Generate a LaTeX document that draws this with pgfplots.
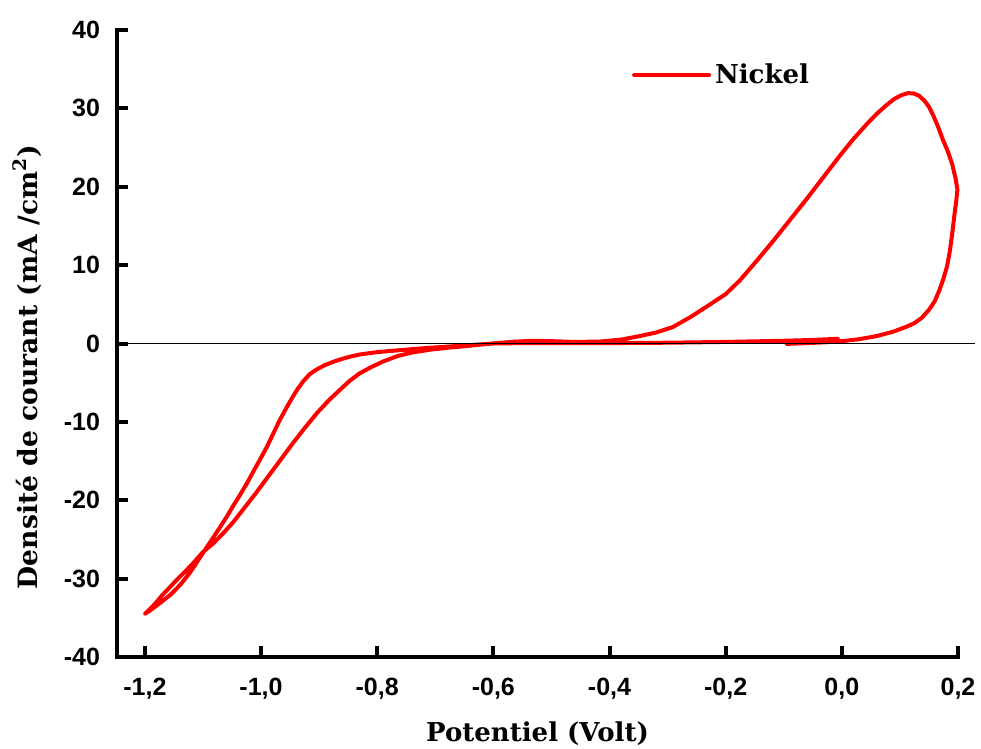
\documentclass[border=0pt]{standalone}
\usepackage{fontspec}
\usepackage{pgfplots}
\pgfplotsset{compat=1.18}
\setmainfont{DejaVu Serif}
\newfontfamily\tickfont{Liberation Sans}
\definecolor{cvred}{RGB}{255,0,0}
\begin{document}
\begin{tikzpicture}
\useasboundingbox (-58.5pt,-46pt) rectangle (432pt,328.5pt);
\begin{axis}[
  at={(0pt,0pt)}, anchor=south west,
  scale only axis, width=420.5pt, height=313.5pt,
  xmin=-1.248, xmax=0.2, ymin=-40, ymax=40,
  axis lines*=left,
  axis line style={line width=2pt, line cap=rect},
  tick align=inside, major tick length=5.5pt,
  tick style={line width=2pt, black},
  xtick={-1.2,-1,-0.8,-0.6,-0.4,-0.2,0,0.2},
  xticklabels={{-1,2},{-1,0},{-0,8},{-0,6},{-0,4},{-0,2},{0,0},{0,2}},
  ytick={-40,-30,-20,-10,0,10,20,30,40},
  yticklabels={-40,-30,-20,-10,0,10,20,30,40},
  xticklabel style={font=\tickfont\bfseries\fontsize{12.5}{14}\selectfont, inner sep=0pt, anchor=north, yshift=-10.5pt},
  yticklabel style={font=\tickfont\bfseries\fontsize{12.5}{14}\selectfont, inner sep=0pt, anchor=east, xshift=-8.3pt},
  xlabel={Potentiel (Volt)},
  ylabel={Densité de courant (mA /cm\textsuperscript{2})},
  xlabel style={font=\bfseries\fontsize{13}{15}\selectfont, at={(axis description cs:0.5,-0.134)}, anchor=base, inner sep=0pt},
  ylabel style={font=\bfseries\fontsize{13.3}{15}\selectfont, at={(axis description cs:-0.0951,0.4625)}, anchor=base, inner sep=0pt},
  legend style={at={(axis description cs:0.612,0.928)}, anchor=west, draw=none, fill=none, inner sep=0pt, font=\bfseries\fontsize{13}{15}\selectfont},
  legend image code/.code={\draw[#1] (0pt,0pt) -- (37.5pt,0pt);},
  clip=false,
]
\addplot[cvred, line width=2pt, line join=round, line cap=round] coordinates {
(-0.095,-0.05) (-0.06,0.05) (-0.03,0.15) (0.0,0.3) (0.03,0.55) (0.06,0.95)
(0.088,1.5) (0.11,2.1) (0.125,2.6) (0.138,3.3) (0.150,4.3) (0.160,5.4)
(0.168,6.8) (0.175,8.3) (0.181,9.8) (0.186,11.8) (0.190,14.0) (0.194,16.5)
(0.197,18.2) (0.199,19.6) (0.196,21.0) (0.190,22.9) (0.182,24.6) (0.174,26.0)
(0.166,27.6) (0.158,29.0) (0.150,30.2) (0.142,31.0) (0.133,31.6) (0.124,31.9)
(0.114,31.95) (0.103,31.7) (0.090,31.2) (0.075,30.3) (0.060,29.3) (0.043,28.0)
(0.020,26.1) (-0.003,24.0) (-0.03,21.4) (-0.06,18.5) (-0.09,15.7) (-0.118,13.1)
(-0.146,10.6) (-0.175,8.1) (-0.20,6.3) (-0.233,4.7) (-0.26,3.4) (-0.291,2.1)
(-0.32,1.4) (-0.348,0.95) (-0.38,0.5) (-0.416,0.25) (-0.46,0.2) (-0.50,0.3)
(-0.535,0.35) (-0.57,0.2) (-0.61,-0.05) (-0.65,-0.35) (-0.68,-0.55) (-0.71,-0.8)
(-0.74,-1.15) (-0.765,-1.6) (-0.790,-2.3) (-0.810,-3.0) (-0.830,-3.8) (-0.848,-4.8)
(-0.864,-5.9) (-0.884,-7.3) (-0.904,-8.9) (-0.925,-10.8) (-0.945,-12.7) (-0.968,-15.0)
(-0.990,-17.2) (-1.010,-19.2) (-1.031,-21.2) (-1.048,-22.8) (-1.065,-24.2) (-1.082,-25.5)
(-1.100,-26.6) (-1.114,-27.8) (-1.128,-28.9) (-1.143,-30.0) (-1.157,-31.1) (-1.170,-32.1)
(-1.180,-33.0) (-1.190,-33.8) (-1.200,-34.5)
(-1.188,-33.9) (-1.172,-33.0) (-1.155,-32.0) (-1.138,-30.7) (-1.122,-29.2) (-1.106,-27.4)
(-1.088,-25.4) (-1.072,-23.6) (-1.059,-22.1) (-1.047,-20.6) (-1.036,-19.3) (-1.024,-17.8)
(-1.013,-16.3) (-1.001,-14.7) (-0.990,-13.2) (-0.979,-11.5) (-0.968,-9.8) (-0.957,-8.3)
(-0.947,-7.0) (-0.937,-5.8) (-0.927,-4.8) (-0.916,-3.9) (-0.904,-3.3) (-0.890,-2.75)
(-0.876,-2.35) (-0.862,-2.0) (-0.848,-1.7) (-0.830,-1.4) (-0.80,-1.1) (-0.761,-0.85)
(-0.72,-0.6) (-0.68,-0.4) (-0.64,-0.2) (-0.60,0.0) (-0.55,0.05) (-0.50,0.05)
(-0.40,0.05) (-0.30,0.1) (-0.20,0.2) (-0.10,0.35) (-0.05,0.45) (-0.007,0.6)
};
\addlegendentry{Nickel}
\addplot[black, line width=0.6pt, forget plot] coordinates {(-1.248,0) (0.229,0)};
\end{axis}
\end{tikzpicture}
\end{document}
